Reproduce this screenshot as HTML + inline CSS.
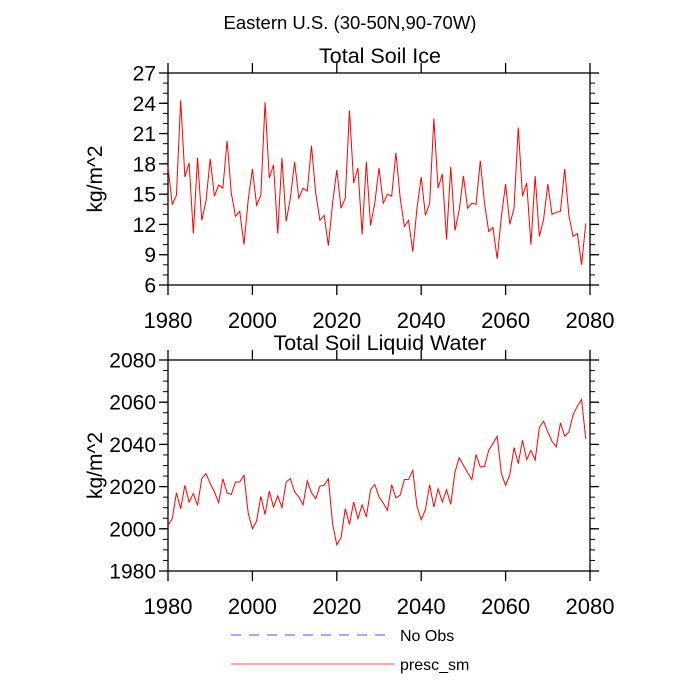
<!DOCTYPE html>
<html><head><meta charset="utf-8"><style>
body{margin:0;background:#fff}
svg{display:block;font-family:"Liberation Sans",Arial,sans-serif}
</style></head><body>
<svg id="chart" width="700" height="700" viewBox="0 0 700 700">
<text x="350" y="29" font-size="18.5" text-anchor="middle">Eastern U.S. (30-50N,90-70W)</text>
<g id="top"></g>
<g id="bot"></g>
<g>
<line x1="231" y1="635" x2="388" y2="635" stroke="#5555dd" stroke-width="1" stroke-dasharray="10,8"/>
<text x="400" y="641" font-size="16">No Obs</text>
<line x1="231" y1="664" x2="395" y2="664" stroke="#f55" stroke-width="1"/>
<text x="400" y="670" font-size="16">presc_sm</text>
</g>
</svg>
<script>
const years = []; for (let y = 1980; y <= 2079; y++) years.push(y);
const iceValues = [17.7,14.0,14.9,24.3,16.7,18.1,11.1,18.6,12.4,14.3,18.5,14.8,15.9,15.6,20.3,15.1,12.8,13.3,10.0,14.4,
17.5,13.9,14.9,24.1,16.6,17.9,11.1,18.6,12.3,14.6,18.2,14.6,15.6,15.3,19.8,15.1,12.4,12.9,9.9,14.1,
17.4,13.6,14.6,23.3,16.1,17.6,11.0,18.2,11.9,14.1,17.6,14.1,15.0,14.8,19.1,14.7,11.8,12.4,9.3,13.6,
16.7,12.9,14.1,22.5,15.6,17.0,10.5,17.7,11.4,13.4,16.8,13.6,14.1,14.0,18.3,14.1,11.3,11.7,8.6,12.8,
16.0,12.0,13.6,21.6,14.8,16.1,10.0,16.8,10.8,12.5,16.0,13.0,13.2,13.3,17.5,12.9,10.8,11.1,8.0,12.1];
const waterValues = [2001.6,2004.8,2017.1,2009.5,2020.6,2012.7,2016.7,2011.1,2023.8,2026.2,2021.4,2017.5,2012.4,2023.7,2017.0,2016.3,2022.2,2022.2,2025.4,2007.5,
2000.0,2003.7,2015.4,2006.8,2017.9,2010.3,2015.6,2010.0,2022.2,2023.8,2017.5,2015.1,2011.4,2022.7,2017.1,2014.3,2020.2,2020.6,2023.7,2002.4,
1992.4,1995.7,2009.5,2002.1,2012.7,2004.8,2011.4,2005.6,2018.6,2021.0,2015.1,2012.2,2008.7,2020.9,2014.7,2015.9,2023.3,2023.4,2027.7,2010.6,
2004.3,2009.1,2020.9,2010.3,2019.0,2012.7,2018.5,2011.6,2026.9,2033.7,2030.1,2026.6,2023.3,2035.2,2029.3,2029.6,2037.2,2040.4,2043.9,2026.1,
2020.6,2025.7,2038.5,2030.9,2042.0,2032.8,2037.2,2032.5,2048.0,2051.0,2045.9,2041.5,2038.8,2050.2,2043.9,2045.9,2054.1,2058.1,2061.3,2042.6];
const xTicks = [1980,2000,2020,2040,2060,2080];
const iceTicks = [6,9,12,15,18,21,24,27];
const waterTicks = [1980,2000,2020,2040,2060,2080];

const NS = "http://www.w3.org/2000/svg";
function mk(parent, tag, attrs, text) {
  const e = document.createElementNS(NS, tag);
  for (const k in attrs) e.setAttribute(k, attrs[k]);
  if (text !== undefined) e.textContent = text;
  parent.appendChild(e);
  return e;
}
function panel(g, top, bottom, ymin, ymax, yTicks, minorStep, values, title, prefix) {
  const L = 168, R = 590;
  const sx = v => L + (v - 1980) / 100 * (R - L);
  const sy = v => bottom - (v - ymin) / (ymax - ymin) * (bottom - top);
  const t = mk(g, "text", {x: 380, y: top - 10, "font-size": 21.5, "text-anchor": "middle"}, title);
  
  
  const fr = mk(g, "rect", {x: L, y: top, width: R - L, height: bottom - top, fill: "none", stroke: "#000", "stroke-width": 1.3});
  
  
  for (let v = ymin; v <= ymax + 1e-9; v += minorStep) {
    const y = sy(v);
    mk(g, "line", {x1: L - 5, y1: y, x2: L, y2: y, stroke: "#000", "stroke-width": 1});
    mk(g, "line", {x1: R, y1: y, x2: R + 5, y2: y, stroke: "#000", "stroke-width": 1});
  }
  yTicks.forEach(v => {
    const y = sy(v);
    mk(g, "line", {x1: L - 9, y1: y, x2: L, y2: y, stroke: "#000", "stroke-width": 1.3});
    mk(g, "line", {x1: R, y1: y, x2: R + 9, y2: y, stroke: "#000", "stroke-width": 1.3});
    const lb = mk(g, "text", {x: L - 12, y: y + 7.5, "font-size": 21, "text-anchor": "end"}, String(v));
    
    
  });
  xTicks.forEach(v => {
    const x = sx(v);
    mk(g, "line", {x1: x, y1: top - 10, x2: x, y2: top, stroke: "#000", "stroke-width": 1.3});
    mk(g, "line", {x1: x, y1: bottom, x2: x, y2: bottom + 10, stroke: "#000", "stroke-width": 1.3});
    const lb = mk(g, "text", {x: x, y: bottom + 43, "font-size": 22, "text-anchor": "middle"}, String(v));
    
    
  });
  const cy = (top + bottom) / 2;
  const yt = mk(g, "text", {x: 0, y: 0, "font-size": 21, "text-anchor": "middle", transform: "translate(102," + cy + ") rotate(-90)"}, "kg/m^2");
  
  
  const pts = values.map((v, i) => sx(years[i]).toFixed(2) + "," + sy(v).toFixed(2)).join(" ");
  const pl = mk(g, "polyline", {points: pts, fill: "none", stroke: "#f00", "stroke-width": 1});
  
  
}
panel(document.getElementById("top"), 73, 285, 6, 27, iceTicks, 1, iceValues, "Total Soil Ice", "ice");
panel(document.getElementById("bot"), 360, 571, 1980, 2080, waterTicks, 5, waterValues, "Total Soil Liquid Water", "water");
</script>
</body></html>
